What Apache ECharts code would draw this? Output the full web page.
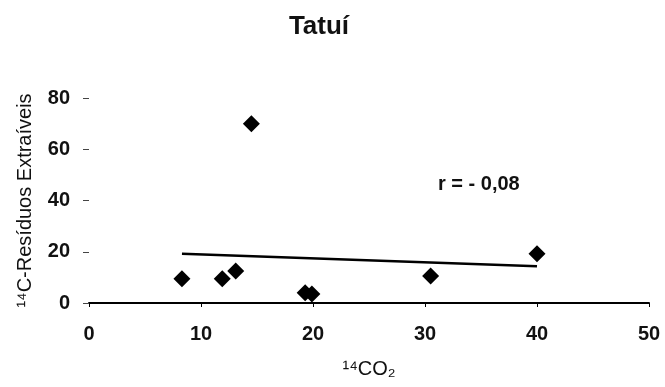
<!DOCTYPE html>
<html>
<head>
<meta charset="utf-8">
<script src="https://cdn.jsdelivr.net/npm/echarts@6/dist/echarts.min.js"></script>
<style>
  html, body { margin: 0; padding: 0; background: #fff; }
  #myChart { width: 665px; height: 387px; }
</style>
</head>
<body>
<div id="myChart"></div>
<script>
// valores
const co2 = [8.3, 11.9, 13.1, 14.5, 19.3, 19.9, 30.5, 40.0];
const residuos = [9.5, 9.5, 12.5, 70.0, 4.0, 3.5, 10.5, 19.2];
// linha de tendência (extremos)
const trendX = [8.3, 40.0];
const trendY = [19.2, 14.3];
const xTicks = [0, 10, 20, 30, 40, 50];
const yTicks = [0, 20, 40, 60, 80];

const font = "'Liberation Sans', Arial, sans-serif";
const myChart = echarts.init(document.getElementById("myChart"));

myChart.setOption({
  animation: false,
  title: {
    text: "Tatuí",
    left: 314,
    top: 9,
    textAlign: "center",
    textStyle: { fontFamily: font, fontSize: 26, fontWeight: "bold", color: "#111" }
  },
  grid: { left: 89, right: 16, top: 98, bottom: 84 },
  xAxis: {
    type: "value",
    min: xTicks[0],
    max: xTicks[xTicks.length - 1],
    interval: 10,
    name: "¹⁴CO₂",
    nameLocation: "middle",
    nameGap: 56,
    nameTextStyle: { fontFamily: font, fontSize: 20, color: "#111" },
    axisLine: { lineStyle: { color: "#000", width: 2 } },
    axisTick: { show: true, length: 4, lineStyle: { color: "#000" } },
    axisLabel: { fontFamily: font, fontSize: 20, fontWeight: "bold", color: "#111", margin: 21 },
    splitLine: { show: false }
  },
  yAxis: {
    type: "value",
    min: yTicks[0],
    max: yTicks[yTicks.length - 1],
    interval: 20,
    name: "¹⁴C-Resíduos Extraíveis",
    nameLocation: "middle",
    nameRotate: 90,
    nameGap: 54,
    nameTextStyle: { fontFamily: font, fontSize: 20, color: "#111" },
    axisLine: { show: false },
    axisTick: { show: true, length: 6, lineStyle: { color: "#444" } },
    axisLabel: { fontFamily: font, fontSize: 20, fontWeight: "bold", color: "#111", margin: 19 },
    splitLine: { show: false }
  },
  graphic: [{
    type: "text",
    left: 438,
    top: 174,
    style: { text: "r = - 0,08", font: "bold 20px " + font, fill: "#111" }
  }],
  series: [
    {
      name: "tendência",
      type: "line",
      data: trendX.map((x, i) => [x, trendY[i]]),
      symbol: "none",
      lineStyle: { color: "#000", width: 2.5 },
      z: 2
    },
    {
      name: "pontos",
      type: "scatter",
      data: co2.map((x, i) => [x, residuos[i]]),
      symbol: "diamond",
      symbolSize: 17,
      itemStyle: { color: "#000", opacity: 1 },
      z: 3
    }
  ]
});
</script>
</body>
</html>
